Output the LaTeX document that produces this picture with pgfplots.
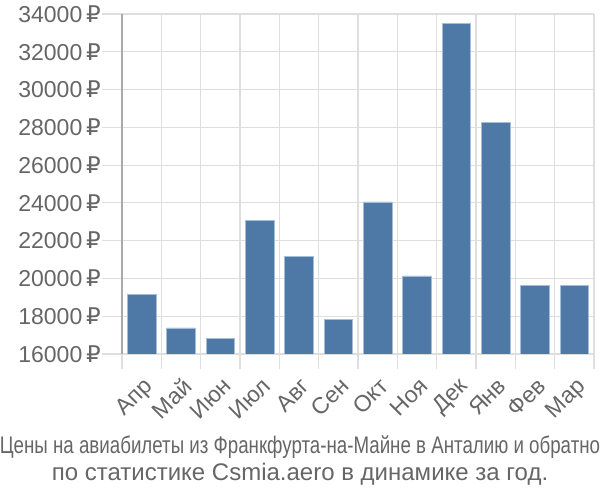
\documentclass[border=0pt]{standalone}
\usepackage{pgfplots}
\pgfplotsset{compat=1.18}
\usepackage{fontspec}
\setmainfont{Liberation Sans}
\newfontfamily\rub{DejaVu Sans}
\definecolor{barc}{RGB}{78,120,166}
\definecolor{bare}{RGB}{165,190,215}
\definecolor{gridc}{RGB}{222,222,222}
\definecolor{axc}{RGB}{170,170,170}
\definecolor{txt}{RGB}{102,102,102}
\newcommand{\R}{\,{\rub ₽}}
\begin{document}
\begin{tikzpicture}
\path[use as bounding box] (-122pt,-146pt) rectangle (478pt,354pt);
\begin{axis}[
  at={(0pt,0pt)}, anchor=south west,
  scale only axis, width=472pt, height=340pt,
  xmin=-0.5, xmax=11.5, ymin=16000, ymax=34000,
  ybar, bar width=0.725,
  axis x line=bottom, axis y line=left,
  axis line style={-},
  x axis line style={draw=gridc, line width=1.2pt},
  y axis line style={draw=axc, line width=1.5pt},
  xtick={0,...,11},
  xticklabels={Апр,Май,Июн,Июл,Авг,Сен,Окт,Ноя,Дек,Янв,Фев,Мар},
  major x tick style={draw=none},
  minor xtick={-0.5,0.5,...,11.5},
  minor x tick style={draw=gridc, line width=1.2pt},
  minor tick length=15pt,
  xminorgrids, minor x grid style={draw=gridc, line width=1.2pt},
  ytick={16000,18000,...,34000},
  scaled y ticks=false,
  yticklabels={16000\R,18000\R,20000\R,22000\R,24000\R,26000\R,28000\R,30000\R,32000\R,34000\R},
  ymajorgrids, major y grid style={draw=gridc, line width=1.2pt},
  major y tick style={draw=gridc, line width=1.2pt},
  major tick length=20pt,
  tick align=outside,
  tick label style={text=txt, font=\fontsize{23}{23}\selectfont},
  yticklabel style={inner sep=1pt},
  xticklabel style={rotate=45, anchor=north east, inner sep=1pt, xshift=0pt, yshift=-1pt},
  clip=true,
]
\addplot[fill=barc, draw=bare, line width=0.8pt] coordinates {
(0,19170) (1,17380) (2,16810) (3,23050) (4,21150) (5,17850)
(6,24050) (7,20130) (8,33480) (9,28270) (10,19650) (11,19650)};
\end{axis}
\node[text=txt, font=\fontsize{24}{24}\selectfont, inner sep=0pt] at (178pt,-93pt) {\scalebox{0.78}[1]{Цены на авиабилеты из Франкфурта-на-Майне в Анталию и обратно}};
\node[text=txt, font=\fontsize{24}{24}\selectfont, inner sep=0pt] at (178pt,-120pt) {по статистике Csmia.aero в динамике за год.};
\end{tikzpicture}
\end{document}
